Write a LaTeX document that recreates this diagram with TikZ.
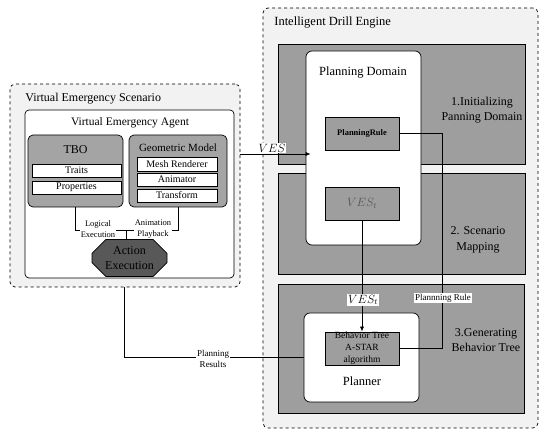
\documentclass[tikz,border=0pt]{standalone}
\usepackage{fontspec}
\setmainfont{Liberation Serif}
\usetikzlibrary{shapes.misc,arrows.meta}
\definecolor{bandgray}{HTML}{9E9E9E}
\definecolor{boxgray}{HTML}{A4A4A4}
\definecolor{darkgray}{HTML}{585858}
\definecolor{outergray}{HTML}{F2F2F2}
\definecolor{txtgray}{HTML}{555555}
\tikzset{
  outer/.style={draw, dashed, rounded corners=5pt, fill=outergray, inner sep=0pt},
  whitebox/.style={draw, rounded corners=6pt, fill=white, inner sep=0pt},
  band/.style={draw, fill=bandgray, inner sep=0pt},
  graybox/.style={draw, rounded corners=5pt, fill=boxgray, inner sep=0pt},
  smallbox/.style={draw, fill=bandgray, inner sep=0pt, align=center},
  itembox/.style={draw, fill=white, inner sep=0pt, font=\fontsize{10}{11}\selectfont},
  lab/.style={fill=white, inner sep=1pt, align=center, font=\fontsize{8.5}{11}\selectfont},
  plainlab/.style={inner sep=0pt, align=center},
  arr/.style={-{Latex[length=5pt,width=4pt]}},
}
\begin{document}
\begin{tikzpicture}[x=1pt,y=-1pt, line width=0.7pt]
\useasboundingbox (0,0) rectangle (550,441);

% Intelligent Drill Engine
\node[outer, minimum width=275pt, minimum height=420pt] (ide) at (400.5,218) {};
\node[plainlab, anchor=west, font=\fontsize{12.5}{14}\selectfont] (idet) at (274,23) {Intelligent Drill Engine};
\node[band, minimum width=247pt, minimum height=120pt] (b1) at (401.5,104) {};
\node[band, minimum width=247pt, minimum height=101pt] (b2) at (401.5,223.5) {};
\node[band, minimum width=246pt, minimum height=129pt] (b3) at (401,348.5) {};
\node[plainlab, font=\fontsize{12}{15.5}\selectfont] (l1) at (482,110) {1.Initializing\\Panning Domain};
\node[plainlab, font=\fontsize{12}{15.5}\selectfont] (l2) at (478,240) {2. Scenario\\Mapping};
\node[plainlab, font=\fontsize{12}{15.5}\selectfont] (l3) at (486,340) {3.Generating\\Behavior Tree};

\node[whitebox, minimum width=115pt, minimum height=194pt] (pd) at (363.5,148) {};
\node[plainlab, font=\fontsize{12.5}{14}\selectfont] (pdt) at (363,73) {Planning Domain};
\node[smallbox, minimum width=74pt, minimum height=33pt, font=\bfseries\fontsize{8.5}{9}\selectfont] (pr) at (362,133.5) {PlanningRule};
\node[smallbox, minimum width=74pt, minimum height=33pt, text=txtgray, font=\fontsize{12}{13}\selectfont] (vest) at (362,203.5) {$VES_t$};

\node[whitebox, minimum width=115pt, minimum height=89pt] (pl) at (361.5,357.5) {};
\node[plainlab, font=\fontsize{12.5}{14}\selectfont] (plt) at (362,381) {Planner};
\node[smallbox, minimum width=74pt, minimum height=33pt, font=\fontsize{9.5}{12}\selectfont] (bt) at (362,348.5) {Behavior Tree\\A-STAR\\algorithm};

% Virtual Emergency Scenario
\node[outer, minimum width=230pt, minimum height=203pt] (ves) at (125,185.5) {};
\node[plainlab, anchor=west, font=\fontsize{12}{14}\selectfont] (vest2) at (25,99) {Virtual Emergency Scenario};
\node[whitebox, rounded corners=4pt, minimum width=209pt, minimum height=168pt] (vea) at (129.5,194) {};
\node[plainlab, font=\fontsize{11.5}{13}\selectfont] (veat) at (130,123) {Virtual Emergency Agent};

\node[graybox, minimum width=95pt, minimum height=72pt] (tbo) at (75.5,171) {};
\node[plainlab, font=\fontsize{12}{13}\selectfont] (tbot) at (75.5,150) {TBO};
\node[itembox, minimum width=89pt, minimum height=13pt] (traits) at (76.5,170.5) {Traits};
\node[itembox, minimum width=89pt, minimum height=13pt] (props) at (76.5,187.5) {Properties};

\node[graybox, minimum width=98pt, minimum height=72pt] (gm) at (178,171) {};
\node[plainlab, font=\fontsize{11}{12}\selectfont] (gmt) at (178,148) {Geometric Model};
\node[itembox, minimum width=80pt, minimum height=14pt] (mesh) at (177,164) {Mesh Renderer};
\node[itembox, minimum width=80pt, minimum height=13pt] (anim) at (177,179.5) {Animator};
\node[itembox, minimum width=80pt, minimum height=13pt] (trans) at (177,195.5) {Transform};

\node[chamfered rectangle, chamfered rectangle xsep=7pt, chamfered rectangle ysep=7pt, draw, fill=darkgray, inner sep=0pt, minimum width=75pt, minimum height=30pt, align=center, font=\fontsize{12}{15}\selectfont] (act) at (129.5,258) {Action\\Execution};

% connectors in agent
\coordinate (m) at (126,230);
\coordinate (tx) at (75,0);
\coordinate (gx) at (178,0);
\draw (tbo.south -| tx) |- (m);
\draw (gm.south -| gx) |- (m);
\draw (m) -- (act.north -| m);
\draw ([xshift=-3pt]m) -- ([xshift=3pt]m);
\node[lab] (logex) at (98,229) {Logical\\Execution};
\node[lab] (animpb) at (153,229) {Animation\\Playback};

% VES arrow
\coordinate (vesy) at (0,154);
\draw[arr] (ves.east |- vesy) -- ([xshift=5pt]pd.west |- vesy);
\node[fill=white, inner sep=1pt, font=\fontsize{12}{13}\selectfont] (veslab) at (272,148) {$VES$};

% VES_t arrow
\draw[arr] (vest.south) -- (bt.north);
\node[fill=white, inner sep=1pt, font=\fontsize{12}{13}\selectfont] (vestlab) at (363,300) {$VES_t$};

% Planning rule
\coordinate (prx) at (442,0);
\draw (pr.east) -| (prx |- bt.east) -- (bt.east);
\node[lab, font=\fontsize{9}{10}\selectfont] (prlab) at (443,298) {Plannning Rule};

% Planning results
\coordinate (resx) at (124,0);
\draw (ves.south -| resx) |- (pl.west);
\node[lab, font=\fontsize{9}{11.5}\selectfont] (reslab) at (213,359) {Planning\\Results};
\end{tikzpicture}
\end{document}
